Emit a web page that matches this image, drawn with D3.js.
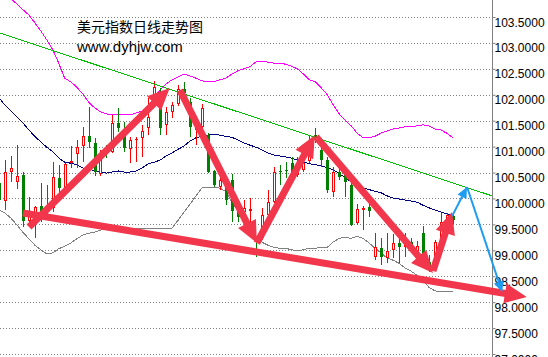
<!DOCTYPE html>
<html><head><meta charset="utf-8">
<script src="https://cdn.jsdelivr.net/npm/d3@7"></script>
<style>html,body{margin:0;padding:0;background:#fff;overflow:hidden}</style>
</head><body>
<script>
// ---- data ----
const title = "美元指数日线走势图";
const site = "www.dyhjw.com";
const tickValues = [97.0, 97.5, 98.0, 98.5, 99.0, 99.5, 100.0, 100.5, 101.0, 101.5, 102.0, 102.5, 103.0, 103.5];

// candle index 0..76 ; open, high, low, close
const opens  = [100.30,99.95,100.51,100.32,100.45,99.56,99.62,99.85,99.74,99.82,100.40,100.20,100.68,100.86,101.01,101.20,101.07,100.47,100.97,100.90,101.46,101.32,100.95,101.13,101.17,101.36,102.00,101.75,101.42,101.67,101.82,102.11,101.86,101.32,101.38,101.22,100.53,100.22,100.26,100.36,99.82,99.74,99.76,99.24,99.24,99.68,99.93,100.53,100.55,100.68,100.45,100.55,100.72,101.22,100.94,100.74,100.12,100.51,100.51,100.26,99.53,99.78,99.83,98.87,99.04,98.85,99.01,99.14,99.06,99.16,98.97,99.33,98.77,98.68,99.20,99.49,99.66];
const highs  = [100.36,100.74,100.82,101.03,100.51,100.03,99.85,100.30,100.26,100.70,100.65,100.68,101.01,101.13,101.38,101.76,101.17,100.94,101.03,101.61,101.75,101.48,101.19,101.19,101.42,101.94,102.27,102.13,101.76,101.86,102.19,102.25,101.94,101.55,101.82,101.26,100.55,100.41,100.32,100.47,99.87,99.97,100.01,99.26,99.82,100.16,100.61,100.65,100.70,100.80,100.80,100.90,101.22,101.36,101.07,100.80,100.61,100.59,100.55,100.32,99.89,99.85,99.91,99.33,99.24,99.33,99.31,99.29,99.33,99.24,99.18,99.47,98.91,99.20,99.72,99.72,99.74];
const lows   = [99.87,99.78,100.32,100.18,99.45,99.49,99.24,99.55,99.66,99.74,100.07,100.16,100.59,100.59,100.70,100.97,100.43,100.43,100.78,100.88,101.28,100.90,100.68,100.70,100.80,101.22,101.90,101.22,101.22,101.55,101.78,101.84,101.19,101.03,101.32,100.49,100.22,100.16,99.87,99.55,99.55,99.55,99.53,98.87,99.20,99.62,99.91,100.26,100.40,100.36,100.41,100.51,100.68,101.07,100.61,100.10,100.03,100.36,100.03,99.47,99.49,99.39,99.64,98.81,98.71,98.75,98.85,98.75,98.87,98.95,98.87,98.71,98.58,98.62,99.10,99.39,99.51];
const closes = [99.97,100.51,100.59,100.43,99.56,99.68,99.83,99.72,99.85,100.41,100.20,100.67,100.72,100.99,101.20,101.09,100.51,100.88,100.90,101.46,101.36,100.97,101.13,101.15,101.30,101.57,102.15,101.36,101.67,101.80,102.11,102.03,101.38,101.48,101.75,100.51,100.26,100.36,99.97,99.76,99.64,99.82,99.80,99.16,99.68,99.93,100.51,100.51,100.53,100.51,100.59,100.68,100.90,101.15,100.74,100.16,100.51,100.41,100.32,99.49,99.80,99.82,99.76,99.06,98.87,98.99,99.14,99.06,99.16,99.06,99.08,98.81,98.62,99.16,99.55,99.68,99.58];

// Bollinger bands
const upperBand  = [104.06,103.95,103.85,103.75,103.64,103.54,103.39,103.23,103.06,102.87,102.61,102.32,102.25,102.15,102.02,101.86,101.75,101.67,101.63,101.61,101.61,101.61,101.61,101.65,101.69,101.76,101.96,102.09,102.21,102.29,102.34,102.40,102.36,102.32,102.27,102.25,102.25,102.29,102.32,102.40,102.46,102.50,102.54,102.63,102.65,102.63,102.61,102.61,102.59,102.55,102.50,102.40,102.29,102.25,102.13,102.00,101.80,101.63,101.51,101.40,101.26,101.17,101.17,101.20,101.26,101.30,101.34,101.36,101.38,101.38,101.40,101.42,101.40,101.34,101.32,101.26,101.17];
const middleBand = [101.94,101.80,101.69,101.57,101.46,101.32,101.20,101.09,100.99,100.90,100.78,100.70,100.68,100.65,100.59,100.57,100.53,100.51,100.49,100.51,100.53,100.51,100.51,100.53,100.59,100.67,100.70,100.74,100.82,100.88,100.95,101.01,101.11,101.17,101.20,101.22,101.24,101.22,101.20,101.18,101.13,101.07,101.03,100.99,100.94,100.88,100.84,100.82,100.80,100.78,100.74,100.70,100.67,100.65,100.63,100.59,100.55,100.48,100.40,100.32,100.27,100.20,100.17,100.14,100.11,100.05,100.01,99.99,99.97,99.95,99.93,99.87,99.82,99.78,99.74,99.70,99.68];
const lowerBand  = [99.78,99.72,99.62,99.49,99.35,99.22,99.10,99.01,98.93,98.95,99.03,99.08,99.14,99.22,99.29,99.33,99.35,99.39,99.41,99.43,99.43,99.43,99.43,99.43,99.43,99.43,99.43,99.43,99.43,99.43,99.58,99.74,99.89,100.05,100.20,100.22,100.22,100.20,100.13,99.93,99.76,99.58,99.41,99.27,99.16,99.10,99.06,99.04,99.04,99.01,98.99,99.01,99.04,99.04,99.06,99.06,99.16,99.23,99.25,99.23,99.27,99.23,99.14,99.04,98.95,98.85,98.81,98.75,98.66,98.60,98.52,98.43,98.29,98.22,98.20,98.20,98.20];

// annotations: [index, value] pairs
const trendLine = [[0.17, 103.19], [82.6, 100.05]];
const redArrows = [
  [[5.03, 99.45], [28.6, 102.13]],
  [[30.3, 102.09], [43.2, 99.14]],
  [[43.2, 99.14], [52.9, 101.22]],
  [[53.1, 101.19], [72.7, 98.56]],
  [[72.7, 98.60], [75.9, 99.74]],
  [[4.02, 99.72], [88.4, 98.10]]
];
const blueArrows = [
  [[75.9, 99.66], [78.4, 100.22]],
  [[78.4, 100.22], [84.3, 98.19]]
];

// ---- drawing ----
const W = 548, H = 357, axisX = 492;
const x = d3.scaleLinear().domain([0, 76]).range([-1, 452.7]);
const y = d3.scaleLinear().domain([97, 103.5]).range([354, 17]);

const svg = d3.select("body").append("svg").attr("width", W).attr("height", H)
  .style("display", "block");
svg.append("rect").attr("width", W).attr("height", H).attr("fill", "#fff");

// grid
svg.append("g").selectAll("line").data(tickValues).join("line")
  .attr("x1", 0).attr("x2", axisX)
  .attr("y1", d => Math.round(y(d)) + 0.5).attr("y2", d => Math.round(y(d)) + 0.5)
  .attr("stroke", "#808080").attr("stroke-width", 1).attr("stroke-dasharray", "1,2");

// axis
const axis = d3.axisRight(y).tickValues(tickValues).tickFormat(d3.format(".4f")).tickSize(3).tickPadding(0);
const ag = svg.append("g").attr("transform", `translate(${axisX + 0.5},0)`).call(axis);
ag.select(".domain").remove();
ag.selectAll(".tick line").attr("stroke", "#808080");
ag.selectAll(".tick text").attr("font-family", "'Liberation Sans', Arial, sans-serif")
  .attr("font-size", 12).attr("fill", "#000").attr("x", 2).attr("dy", "0.75em").attr("dominant-baseline", null);
svg.append("line").attr("x1", axisX + 0.5).attr("x2", axisX + 0.5).attr("y1", 0).attr("y2", H)
  .attr("stroke", "#808080");

// bands
const idx = d3.range(upperBand.length);
const line = arr => d3.line().x(i => x(i)).y(i => y(arr[i]))(idx);
[[upperBand, "#ff00ff"], [middleBand, "#000080"], [lowerBand, "#808080"]].forEach(([arr, col]) => {
  svg.append("path").attr("d", line(arr)).attr("fill", "none").attr("stroke", col)
    .attr("stroke-width", 1).attr("shape-rendering", "crispEdges");
});

// candles
const candles = opens.map((o, i) => ({i, o, h: highs[i], l: lows[i], c: closes[i]}));
const cg = svg.append("g");
candles.forEach(d => {
  const up = d.c >= d.o;
  const col = up ? "#ff0000" : "#008000";
  const px = Math.round(x(d.i));
  const cx = px + 0.5;
  cg.append("line").attr("x1", cx).attr("x2", cx)
    .attr("y1", Math.round(y(d.h))).attr("y2", Math.round(y(d.l)))
    .attr("stroke", col).attr("stroke-width", 1);
  const top = Math.round(y(Math.max(d.o, d.c)));
  const bot = Math.round(y(Math.min(d.o, d.c)));
  if (up) {
    cg.append("rect").attr("x", px - 0.5).attr("y", top + 0.5)
      .attr("width", 2).attr("height", Math.max(0, bot - top - 1) || 0.01)
      .attr("fill", "#fff").attr("stroke", col).attr("stroke-width", 1);
  } else {
    cg.append("rect").attr("x", px - 1).attr("y", top)
      .attr("width", 3).attr("height", Math.max(1, bot - top)).attr("fill", col);
  }
});

// trend line
svg.append("line")
  .attr("x1", x(trendLine[0][0])).attr("y1", y(trendLine[0][1]))
  .attr("x2", x(trendLine[1][0])).attr("y2", y(trendLine[1][1]))
  .attr("stroke", "#00c000").attr("stroke-width", 1).attr("shape-rendering", "crispEdges");

function arrow(g, seg, color, width, headLen, headHalf) {
  const x1 = x(seg[0][0]), y1 = y(seg[0][1]), x2 = x(seg[1][0]), y2 = y(seg[1][1]);
  const dx = x2 - x1, dy = y2 - y1, len = Math.hypot(dx, dy);
  const ux = dx / len, uy = dy / len;
  const bx = x2 - ux * headLen, by = y2 - uy * headLen;
  g.append("line").attr("x1", x1).attr("y1", y1).attr("x2", bx + ux * 2).attr("y2", by + uy * 2)
    .attr("stroke", color).attr("stroke-width", width);
  const pts = [[x2, y2], [bx - uy * headHalf, by + ux * headHalf], [bx + uy * headHalf, by - ux * headHalf]];
  g.append("path").attr("d", "M" + pts.map(p => p.join(",")).join("L") + "Z").attr("fill", color);
}
const rg = svg.append("g");
redArrows.forEach(s => arrow(rg, s, "#f2364b", 7, 22, 10));
const bg = svg.append("g");
blueArrows.forEach(s => arrow(bg, s, "#1e9cf0", 2, 11, 5));

// titles
svg.append("text").attr("x", 77).attr("y", 32).text(title)
  .attr("font-family", "'Noto Sans CJK SC', sans-serif").attr("font-size", 14).attr("fill", "#000");
svg.append("text").attr("x", 77).attr("y", 52).text(site)
  .attr("font-family", "'Liberation Sans', Arial, sans-serif").attr("font-size", 15).attr("fill", "#000");
</script>
</body></html>
